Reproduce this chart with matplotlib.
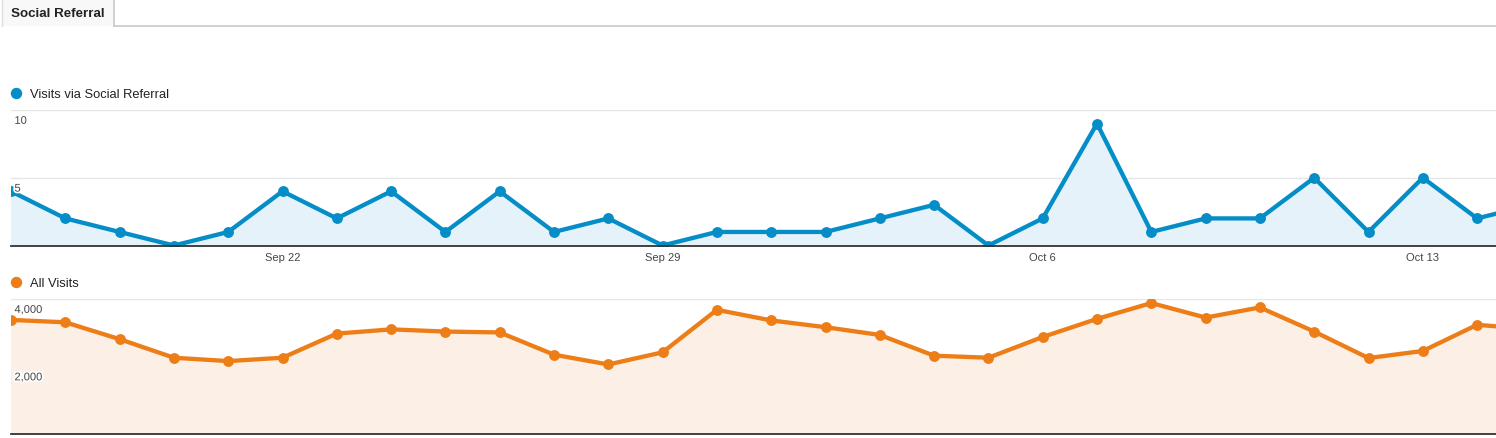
import matplotlib
matplotlib.use("Agg")
import matplotlib.pyplot as plt
import matplotlib.patheffects as pe
from matplotlib.patches import Rectangle
from matplotlib.lines import Line2D
import pandas as pd

# ---- data ----
dates = pd.date_range("2013-09-17", periods=29)
social_visits = [4, 2, 1, 0, 1, 4, 2, 4, 1, 4, 1, 2, 0, 1, 1, 1, 2, 3, 0, 2,
                 9, 1, 2, 2, 5, 1, 5, 2, 3]
all_visits = [3380, 3310, 2810, 2260, 2160, 2260, 2975, 3100, 3035, 3010,
              2350, 2060, 2420, 3680, 3365, 3165, 2935, 2320, 2260, 2875,
              3410, 3880, 3450, 3750, 3035, 2250, 2460, 3235, 3110]
tick_dates = ["2013-09-22", "2013-09-29", "2013-10-06", "2013-10-13"]
tick_labels = ["Sep 22", "Sep 29", "Oct 6", "Oct 13"]
social_ticks = [5, 10]
social_tick_labels = ["5", "10"]
all_ticks = [2000, 4000]
all_tick_labels = ["2,000", "4,000"]
series_names = ["Visits via Social Referral", "All Visits"]

BLUE = "#058DC7"
BLUE_FILL = "#E5F2F9"
ORANGE = "#ED7E17"
ORANGE_FILL = "#FCEFE6"

W, H = 1496, 439
plt.rcParams["font.family"] = ["Liberation Sans", "DejaVu Sans"]
fig = plt.figure(figsize=(W / 100, H / 100), dpi=100)


def fx(x):
    return x / W


def fy(y):
    return 1 - y / H


x = list(range(len(dates)))
tick_pos = [list(dates.strftime("%Y-%m-%d")).index(d) for d in tick_dates]

# ---- tab ----
tab = Rectangle((fx(1.5), fy(26.5)), fx(112.5), 26.5 / H, transform=fig.transFigure,
                facecolor="#f8f8f8", edgecolor="none")
fig.add_artist(tab)
fig.add_artist(Line2D([fx(114), 1], [fy(26.5), fy(26.5)], color="#c8c8c8", lw=1.2))
fig.add_artist(Line2D([fx(114), fx(114)], [fy(0), fy(26.5)], color="#c8c8c8", lw=1.2))
fig.add_artist(Line2D([fx(1.5), fx(1.5)], [fy(0), fy(26.5)], color="#dddddd", lw=1.0))
fig.text(fx(11), fy(14), "Social Referral", fontsize=9.6, fontweight="bold",
         color="#222222", va="center", ha="left")


def panel(top, bottom, values, color, fill, ymax, ticks, tlabels, name, legend_y, show_x):
    ax = fig.add_axes([fx(11), fy(bottom), fx(W - 11), (bottom - top) / H])
    ax.fill_between(x, values, 0, color=fill, zorder=1, lw=0)
    ax.plot(x, values, color=color, lw=3.1, marker="o", markersize=6.8,
            zorder=3, solid_joinstyle="round")
    ax.set_xlim(0, (W - 11) / 54.3)
    ax.set_ylim(0, ymax)
    for t in ticks:
        ax.axhline(t, color="#e6e6e6", lw=1.0, zorder=0.5)
    for t, lab in zip(ticks, tlabels):
        ax.annotate(lab, xy=(0, t), xycoords=("axes fraction", "data"),
                    xytext=(2.5, -4.2), textcoords="offset points",
                    fontsize=8, color="#444444", ha="left", va="top", zorder=5,
                    path_effects=[pe.withStroke(linewidth=2.5, foreground="white")])
    for s in ["top", "left", "right"]:
        ax.spines[s].set_visible(False)
    ax.spines["bottom"].set_color("#333333")
    ax.spines["bottom"].set_linewidth(1.3)
    ax.spines["bottom"].set_zorder(4)
    ax.set_yticks([])
    if show_x:
        ax.set_xticks(tick_pos)
        ax.set_xticklabels(tick_labels, fontsize=8, color="#444444")
        ax.tick_params(axis="x", length=0, pad=4.8)
    else:
        ax.set_xticks([])
    ax.patch.set_alpha(0)
    # legend
    fig.add_artist(Line2D([fx(16)], [fy(legend_y)], marker="o", markersize=7.2,
                          color=color, lw=0))
    fig.text(fx(30), fy(legend_y + 1.5), name, fontsize=9.3, color="#222222",
             va="center", ha="left")
    return ax


panel(111, 246.5, social_visits, BLUE, BLUE_FILL, 10, social_ticks,
      social_tick_labels, series_names[0], 94, True)
panel(300, 435, all_visits, ORANGE, ORANGE_FILL, 4000, all_ticks,
      all_tick_labels, series_names[1], 283, False)

fig.savefig("out.png", dpi=100)
